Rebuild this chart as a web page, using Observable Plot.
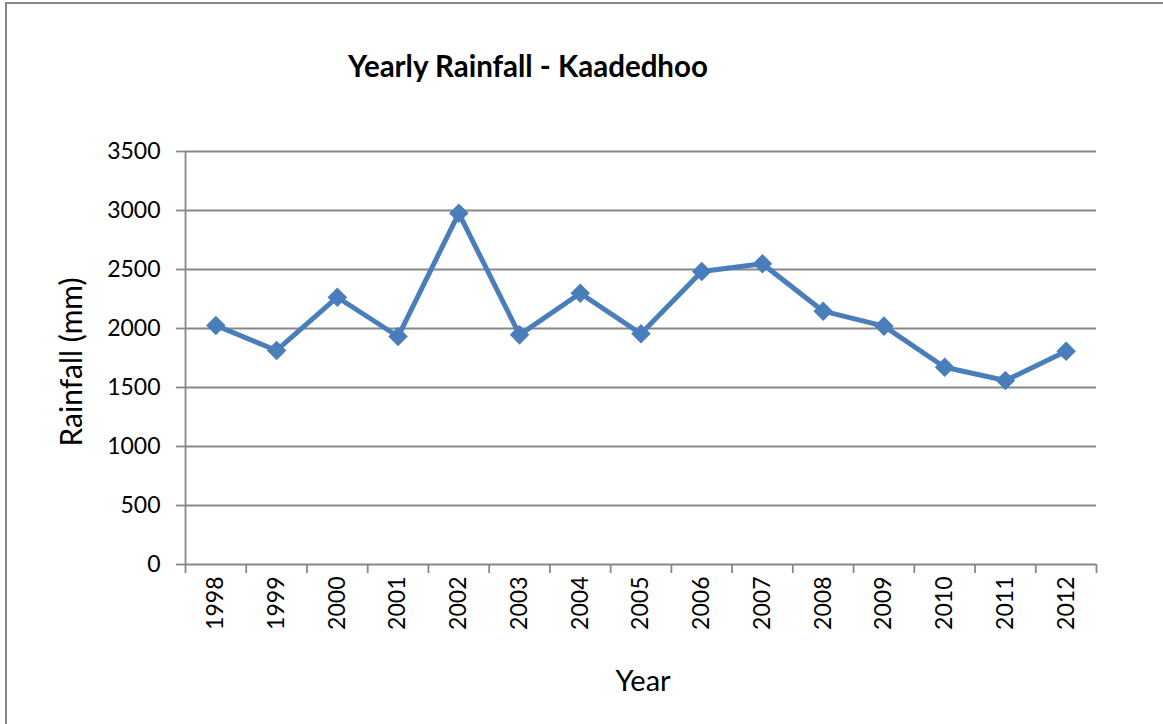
<!DOCTYPE html>
<html><head><meta charset="utf-8">
<script src="https://cdn.jsdelivr.net/npm/d3@7"></script>
<script src="https://cdn.jsdelivr.net/npm/@observablehq/plot@0.6"></script>
<style>
html,body{margin:0;padding:0;background:#fff;overflow:hidden}
#wrap{position:relative;width:1163px;height:724px}
#border{position:absolute;left:5px;top:2px;width:1300px;height:900px;border-left:2px solid #878787;border-top:2px solid #878787;box-sizing:border-box}
#chart{position:absolute;left:0;top:0}
</style>
</head><body>
<div id="wrap"><div id="border"></div><div id="chart"></div></div>
<script>
const years = [1998,1999,2000,2001,2002,2003,2004,2005,2006,2007,2008,2009,2010,2011,2012];
const rainfall = [2025,1814,2265,1932,2977,1946,2299,1955,2483,2548,2147,2020,1672,1559,1808];
const yTicks = [0,500,1000,1500,2000,2500,3000,3500];
const titleText = "Yearly Rainfall - Kaadedhoo";
const xLabel = "Year";
const yLabel = "Rainfall (mm)";

const data = years.map((year,i)=>({year, rainfall: rainfall[i]}));
const bounds = years.map(y=>y-0.5).concat([years[years.length-1]+0.5]);
const gray = "#878787";
const blue = "#4A7EBB";

const chart = Plot.plot({
  width:1163, height:724,
  marginLeft:185, marginRight:67, marginTop:151, marginBottom:160,
  style:{fontFamily:"Lato, 'Open Sans', sans-serif", fontSize:"23px", color:"#000", background:"transparent", overflow:"visible"},
  x:{type:"linear", domain:[1997.5, 2012.5]},
  y:{domain:[0,3500]},
  marks:[
    Plot.ruleY(yTicks.filter(d=>d>0), {stroke:gray, strokeWidth:1.8}),
    Plot.axisY(yTicks, {tickSize:9, tickPadding:16, stroke:gray, strokeWidth:1.8, strokeOpacity:1, fontSize:23, tickFormat:d=>String(d), label:null}),
    Plot.ruleX([1997.5], {stroke:gray, strokeWidth:1.8}),
    Plot.ruleY([0], {stroke:gray, strokeWidth:1.8}),
    Plot.axisX(bounds, {tickSize:9, stroke:gray, strokeWidth:1.8, strokeOpacity:1, tickFormat:()=>"", label:null}),
    Plot.axisX(years, {tickSize:0, tickPadding:12, tickRotate:-90, fontSize:23, tickFormat:d=>String(d), label:null}),
    Plot.line(data, {x:"year", y:"rainfall", stroke:blue, strokeWidth:5, strokeLinejoin:"round", strokeLinecap:"round"}),
    Plot.dot(data, {x:"year", y:"rainfall", symbol:"diamond2", r:8.8, fill:blue, stroke:"none"}),
    Plot.text([titleText], {frameAnchor:"top", dx:-113, dy:-75, lineAnchor:"bottom", fontSize:29.5, fontWeight:"bold"}),
    Plot.text([yLabel], {frameAnchor:"left", textAnchor:"middle", rotate:-90, dx:-113, dy:4, fontSize:30}),
    Plot.text([xLabel], {frameAnchor:"bottom", textAnchor:"middle", dx:2, dy:126, lineAnchor:"bottom", fontSize:29})
  ]
});
document.getElementById("chart").appendChild(chart);
</script>
</body></html>
